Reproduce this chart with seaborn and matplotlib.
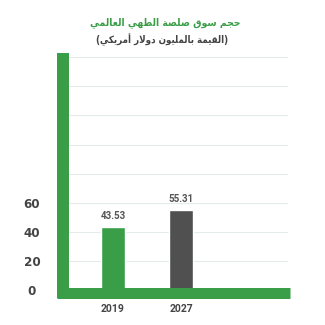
import numpy as np
import matplotlib
matplotlib.use("Agg")
import matplotlib.pyplot as plt
import matplotlib.transforms as mtransforms
import seaborn as sns

# Market size values (USD million)
years = ["2019", "2027"]
market_size = [43.53, 55.31]
bar_colors = ["#3a9e48", "#505050"]
y_tick_values = [0, 20, 40, 60]
y_tick_labels = ["0", "20", "40", "60"]
title_text = "حجم سوق صلصة الطهي العالمي"
subtitle_text = "(القيمة بالمليون دولار أمريكي)"

GREEN = "#3a9e48"
TEXT_GRAY = "#444444"

# Arabic contextual forms: isolated, final, initial, medial
ARABIC_FORMS = {
    "\u0627": ("\uFE8D", "\uFE8E", None, None),
    "\u0623": ("\uFE83", "\uFE84", None, None),
    "\u0628": ("\uFE8F", "\uFE90", "\uFE91", "\uFE92"),
    "\u0629": ("\uFE93", "\uFE94", None, None),
    "\u062C": ("\uFE9D", "\uFE9E", "\uFE9F", "\uFEA0"),
    "\u062D": ("\uFEA1", "\uFEA2", "\uFEA3", "\uFEA4"),
    "\u062F": ("\uFEA9", "\uFEAA", None, None),
    "\u0631": ("\uFEAD", "\uFEAE", None, None),
    "\u0633": ("\uFEB1", "\uFEB2", "\uFEB3", "\uFEB4"),
    "\u0635": ("\uFEB9", "\uFEBA", "\uFEBB", "\uFEBC"),
    "\u0637": ("\uFEC1", "\uFEC2", "\uFEC3", "\uFEC4"),
    "\u0639": ("\uFEC9", "\uFECA", "\uFECB", "\uFECC"),
    "\u0642": ("\uFED5", "\uFED6", "\uFED7", "\uFED8"),
    "\u0643": ("\uFED9", "\uFEDA", "\uFEDB", "\uFEDC"),
    "\u0644": ("\uFEDD", "\uFEDE", "\uFEDF", "\uFEE0"),
    "\u0645": ("\uFEE1", "\uFEE2", "\uFEE3", "\uFEE4"),
    "\u0646": ("\uFEE5", "\uFEE6", "\uFEE7", "\uFEE8"),
    "\u0647": ("\uFEE9", "\uFEEA", "\uFEEB", "\uFEEC"),
    "\u0648": ("\uFEED", "\uFEEE", None, None),
    "\u064A": ("\uFEF1", "\uFEF2", "\uFEF3", "\uFEF4"),
}
LAM_ALEF = {"\u0627": ("\uFEFB", "\uFEFC"), "\u0623": ("\uFEF7", "\uFEF8")}


def shape_arabic(text):
    """Join Arabic letters into presentation forms and lay them out right-to-left."""
    out = []
    i, n = 0, len(text)
    while i < n:
        ch = text[i]
        forms = ARABIC_FORMS.get(ch)
        if forms is None:
            out.append(ch)
            i += 1
            continue
        prev = text[i - 1] if i > 0 else ""
        prev_joins = prev in ARABIC_FORMS and ARABIC_FORMS[prev][2] is not None
        if ch == "\u0644" and i + 1 < n and text[i + 1] in LAM_ALEF:
            iso, fin = LAM_ALEF[text[i + 1]]
            out.append(fin if prev_joins else iso)
            i += 2
            continue
        nxt = text[i + 1] if i + 1 < n else ""
        next_joins = forms[2] is not None and nxt in ARABIC_FORMS
        if prev_joins and next_joins:
            out.append(forms[3])
        elif prev_joins:
            out.append(forms[1])
        elif next_joins:
            out.append(forms[2])
        else:
            out.append(forms[0])
        i += 1
    mirror = {"(": ")", ")": "("}
    return "".join(mirror.get(c, c) for c in reversed(out))


sns.set_theme(style="white")
plt.rcParams["font.family"] = ["Roboto", "DejaVu Sans"]

fig = plt.figure(figsize=(3.25, 3.25), dpi=100)
W = H = 325.0
ax = fig.add_axes([69 / W, 32.5 / H, (288 - 69) / W, (292.5 - 53) / H])

sns.barplot(x=years, y=market_size, hue=years, palette=bar_colors,
            legend=False, width=0.35, saturation=1, ax=ax)

ax.set_xlim(-0.647, 2.57)
ax.set_ylim(-1.72, 162.9)

# Gridlines every 20; value labels drawn separately for the lower ticks
ax.set_yticks(np.arange(0, 161, 20))
ax.set_yticklabels([])
ax.yaxis.grid(True, color="#e3ede6", linewidth=0.8)
ax.xaxis.grid(False)
ax.set_axisbelow(True)
ax.tick_params(axis="y", length=0)
ax.tick_params(axis="x", length=0, pad=8)
ax.set_xticks(range(len(years)))
ax.set_xticklabels(years, fontweight="bold", fontsize=7.5, color=TEXT_GRAY)
ax.set_xlabel("")
ax.set_ylabel("")

label_tf = mtransforms.blended_transform_factory(ax.transAxes, ax.transData)
for value, text in zip(y_tick_values, y_tick_labels):
    ax.text(-0.169, value, text, transform=label_tf, ha="center",
            va="center_baseline", fontsize=9.5, fontweight="bold",
            color=TEXT_GRAY, family=["DejaVu Sans"], fontstretch="condensed",
            clip_on=False)

# Thick green L-shaped axis
for side in ("top", "right"):
    ax.spines[side].set_visible(False)
left = ax.spines["left"]
left.set_color(GREEN)
left.set_linewidth(8.64)
left.set_position(("outward", 4.32))
left.set_capstyle("butt")
left.set_bounds(-5.5, 162.9)
bottom = ax.spines["bottom"]
bottom.set_color(GREEN)
bottom.set_linewidth(7.92)
bottom.set_capstyle("butt")
bottom.set_bounds(-0.82, 2.6)

for container in ax.containers:
    ax.bar_label(container, fmt="%.2f", padding=4, fontsize=7,
                 fontweight="bold", color="#555555")

fig.text(165 / W, 1 - 23 / H, shape_arabic(title_text), ha="center", va="center",
         fontsize=7.5, fontweight="bold", color=GREEN, family=["DejaVu Sans"],
         fontstretch="condensed")
fig.text(162 / W, 1 - 40 / H, shape_arabic(subtitle_text), ha="center", va="center",
         fontsize=7, fontweight="bold", color=TEXT_GRAY, family=["DejaVu Sans"],
         fontstretch="condensed")

fig.savefig("out.png", dpi=100)
